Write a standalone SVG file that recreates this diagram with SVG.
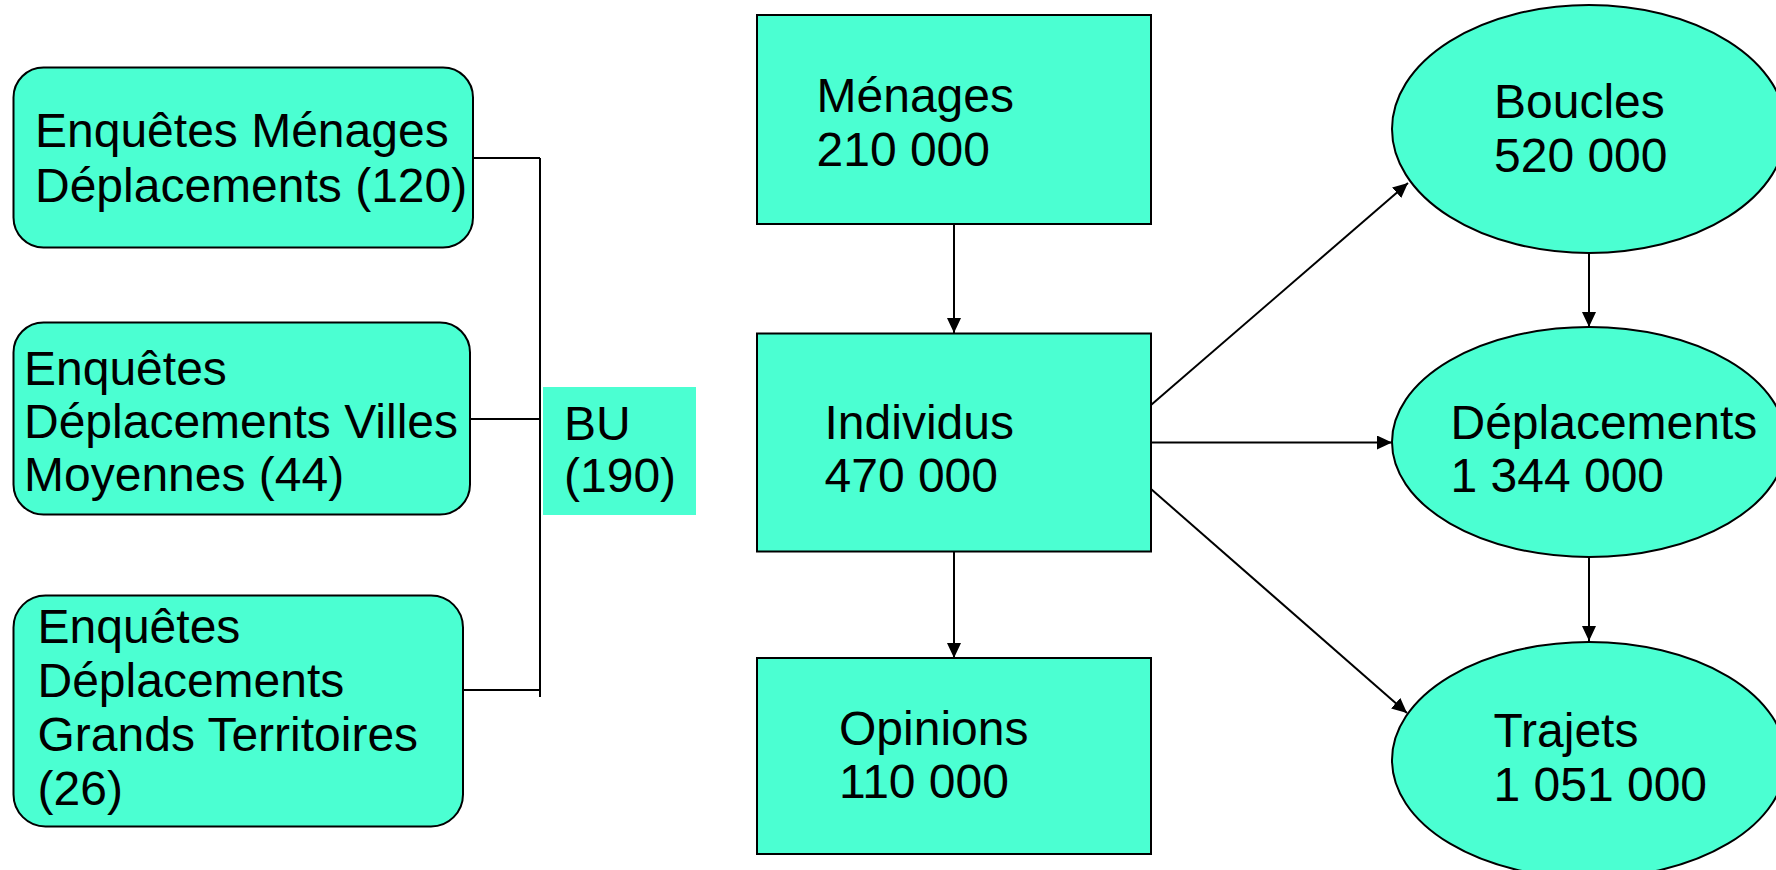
<svg xmlns="http://www.w3.org/2000/svg" width="1776" height="870" viewBox="0 0 1776 870">
  <style>
    .box { fill: #4BFFD2; stroke: #000; stroke-width: 2; }
    .plain { fill: #4BFFD2; stroke: none; }
    .lbl { font-family: "Liberation Sans", Arial, Helvetica, sans-serif; font-size: 48px; fill: #000; }
    .wire { fill: none; stroke: #000; stroke-width: 2; }
    .arrow { fill: none; stroke: #000; stroke-width: 2; marker-end: url(#head); }
  </style>
  <defs>
    <marker id="head" markerUnits="userSpaceOnUse" markerWidth="16" markerHeight="16" refX="15" refY="7" orient="auto">
      <path d="M0,0 L15,7 L0,14 Z" fill="#000"/>
    </marker>
  </defs>
  <rect width="1776" height="870" fill="#fff"/>

  <!-- survey sources on the left -->
  <g id="emd">
    <rect class="box" x="13.5" y="67.5" width="459.5" height="180" rx="30" ry="30"/>
    <text class="lbl"><tspan x="35" y="146.5">Enquêtes Ménages</tspan><tspan x="35" y="201.5">Déplacements (120)</tspan></text>
  </g>
  <g id="edvm">
    <rect class="box" x="13.5" y="322.5" width="456.5" height="192" rx="30" ry="30"/>
    <text class="lbl"><tspan x="24" y="384.5">Enquêtes</tspan><tspan x="24" y="438">Déplacements Villes</tspan><tspan x="24" y="491">Moyennes (44)</tspan></text>
  </g>
  <g id="edgt">
    <rect class="box" x="13.5" y="595.5" width="449.5" height="231" rx="32" ry="32"/>
    <text class="lbl"><tspan x="37.5" y="643">Enquêtes</tspan><tspan x="37.5" y="697">Déplacements</tspan><tspan x="37.5" y="751">Grands Territoires</tspan><tspan x="37.5" y="805">(26)</tspan></text>
  </g>
  <g id="bu">
    <rect class="plain" x="543" y="387" width="153" height="128"/>
    <text class="lbl"><tspan x="564" y="439.5">BU</tspan><tspan x="564" y="492">(190)</tspan></text>
  </g>

  <!-- base tables -->
  <g id="menages">
    <rect class="box" x="757" y="15" width="394" height="209"/>
    <text class="lbl"><tspan x="816.5" y="111.7">Ménages</tspan><tspan x="816.5" y="165.5">210 000</tspan></text>
  </g>
  <g id="individus">
    <rect class="box" x="757" y="333.5" width="394" height="218"/>
    <text class="lbl"><tspan x="824.5" y="438.5">Individus</tspan><tspan x="824.5" y="492">470 000</tspan></text>
  </g>
  <g id="opinions">
    <rect class="box" x="757" y="658" width="394" height="196"/>
    <text class="lbl"><tspan x="839" y="745">Opinions</tspan><tspan x="839" y="798">110 000</tspan></text>
  </g>

  <!-- trip hierarchy -->
  <g id="boucles">
    <ellipse class="box" cx="1589" cy="129" rx="197" ry="124"/>
    <text class="lbl"><tspan x="1494" y="117.5">Boucles</tspan><tspan x="1494" y="171.5">520 000</tspan></text>
  </g>
  <g id="deplacements">
    <ellipse class="box" cx="1589" cy="442" rx="197" ry="115"/>
    <text class="lbl"><tspan x="1450.5" y="438.5">Déplacements</tspan><tspan x="1450.5" y="492.3">1 344 000</tspan></text>
  </g>
  <g id="trajets">
    <ellipse class="box" cx="1589" cy="760" rx="197" ry="118"/>
    <text class="lbl"><tspan x="1493.5" y="747">Trajets</tspan><tspan x="1493.5" y="801">1 051 000</tspan></text>
  </g>

  <!-- connectors -->
  <g id="connectors">
    <path class="wire" d="M473,158 H540 M470,419 H540 M540,158 V697"/>
    <path class="wire" d="M463,690 H540" stroke-width="3"/>
    <path class="arrow" d="M954,224 V333"/>
    <path class="arrow" d="M954,551.5 V658"/>
    <path class="arrow" d="M1151,405 L1408,183"/>
    <path class="arrow" d="M1151,442.5 H1392"/>
    <path class="arrow" d="M1151,489 L1407,713"/>
    <path class="arrow" d="M1589,253 V327"/>
    <path class="arrow" d="M1589,557 V641"/>
  </g>
</svg>
